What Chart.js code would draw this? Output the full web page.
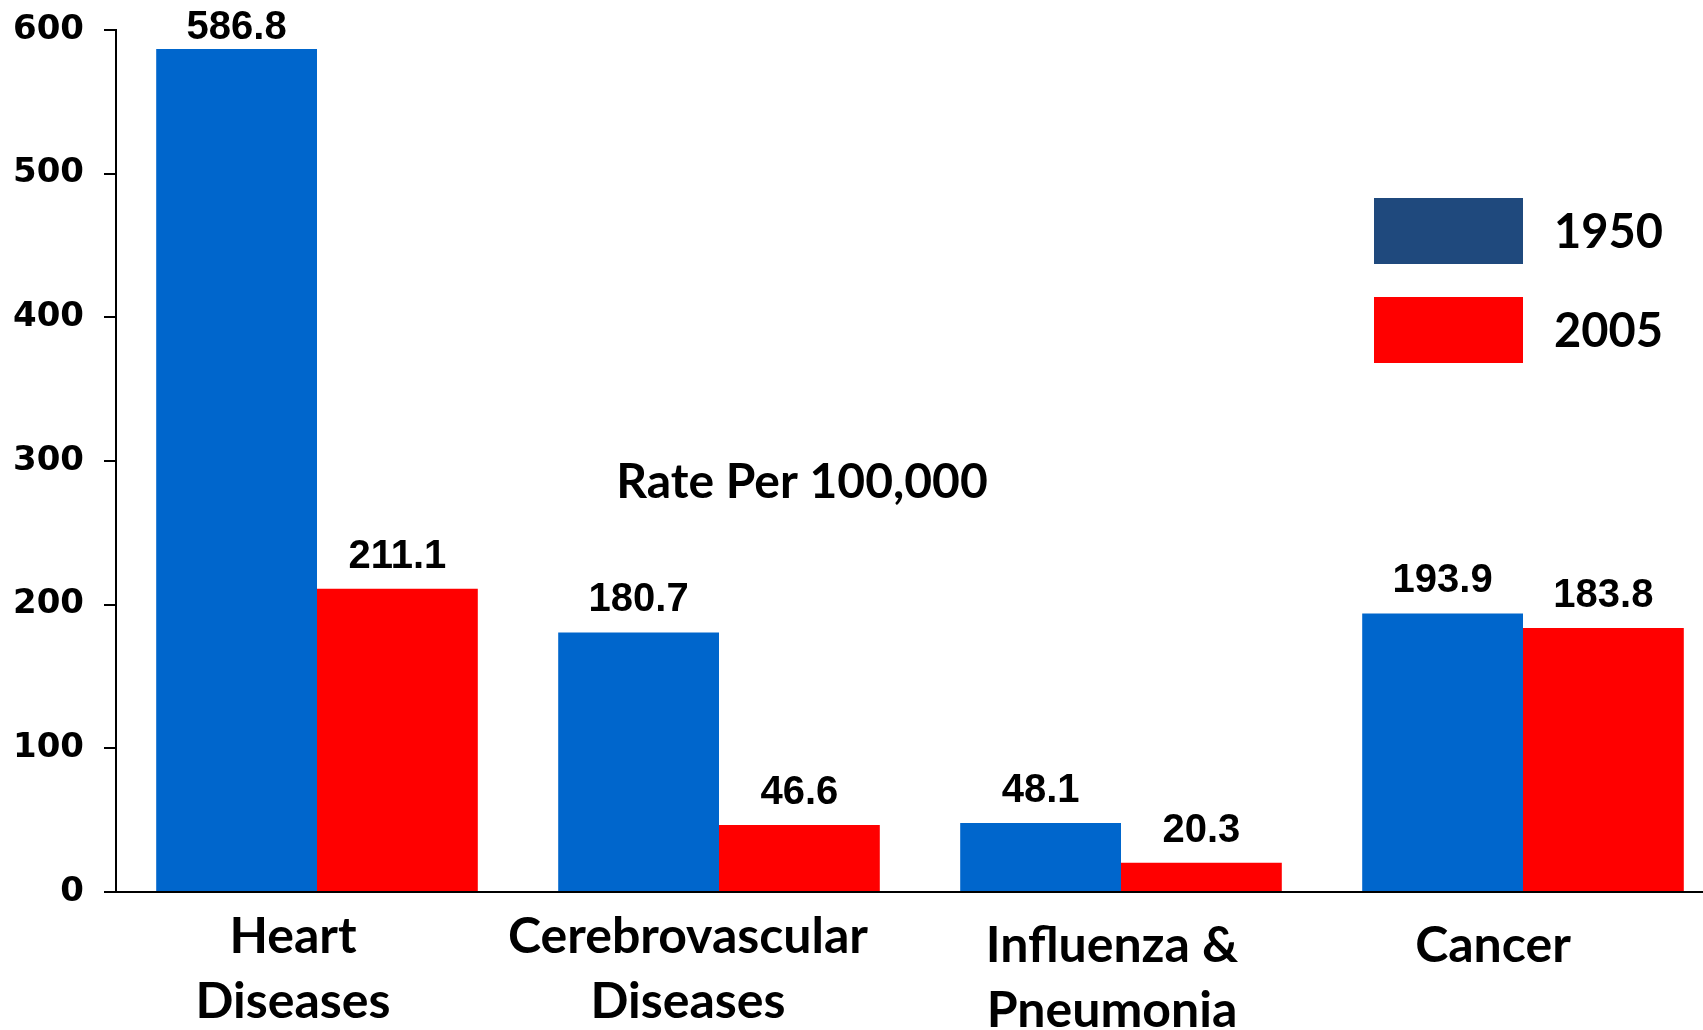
<!DOCTYPE html>
<html>
<head>
<meta charset="utf-8">
<script src="https://cdn.jsdelivr.net/npm/chart.js@4/dist/chart.umd.min.js"></script>
<style>
  html, body { margin: 0; padding: 0; background: #fff; overflow: hidden; }
  #wrap { position: absolute; left: 0; top: 0; width: 1724px; height: 1030px; }
</style>
</head>
<body>
<div id="wrap"><canvas id="barChart"></canvas></div>
<script>
// chart data
const categories = [["Heart", "Diseases"], ["Cerebrovascular", "Diseases"], ["Influenza &", "Pneumonia"], ["Cancer"]];
const seriesNames = ["1950", "2005"];
const values1950 = [586.8, 180.7, 48.1, 193.9];
const values2005 = [211.1, 46.6, 20.3, 183.8];
const yTicks = [0, 100, 200, 300, 400, 500, 600];
const note = "Rate Per 100,000";

// styling
const barColors = ["#0066CC", "#FF0000"];
const legendColors = ["#1F497D", "#FF0000"];
const labelFont = "bold 50px Lato";
// the category captions sit a bit off the bar centres in the original slide
const captionShift = [[-24, 0], [-31, 0], [-9, 9], [-30, 9]];

// draws value labels, category captions, legend and the note
const decorations = {
  id: "decorations",
  afterDatasetsDraw(chart) {
    const ctx = chart.ctx;
    ctx.save();

    // values above the bars
    ctx.font = "bold 40px 'Liberation Sans', Arial";
    ctx.fillStyle = "#000";
    ctx.textAlign = "center";
    ctx.textBaseline = "alphabetic";
    chart.data.datasets.forEach((ds, d) => {
      chart.getDatasetMeta(d).data.forEach((bar, i) => {
        const y = Math.max(bar.y - 21, 39);
        ctx.fillText(ds.data[i].toFixed(1), bar.x, y);
      });
    });

    // category captions under the axis
    const xScale = chart.scales.x;
    ctx.font = labelFont;
    ctx.textBaseline = "middle";
    categories.forEach((lines, i) => {
      const cx = xScale.getPixelForValue(i) + captionShift[i][0];
      lines.forEach((line, j) => {
        ctx.fillText(line, cx, 937 + captionShift[i][1] + j * 65);
      });
    });

    // note in the middle of the plot
    ctx.font = "bold 48px Lato";
    ctx.fillText(note, 802, 483);

    // legend
    ctx.textAlign = "left";
    ctx.font = "bold 47px Lato";
    seriesNames.forEach((name, i) => {
      const top = 198 + i * 99;
      ctx.fillStyle = legendColors[i];
      ctx.fillRect(1374, top, 149, 66);
      ctx.fillStyle = "#000";
      ctx.fillText(name, 1554, top + 35);
    });

    ctx.restore();
  },
};

const ctx = document.getElementById("barChart").getContext("2d");
const barChart = new Chart(ctx, {
  type: "bar",
  data: {
    labels: categories.map((c) => c.join(" ")),
    datasets: [
      { label: seriesNames[0], data: values1950, backgroundColor: barColors[0] },
      { label: seriesNames[1], data: values2005, backgroundColor: barColors[1] },
    ],
  },
  options: {
    responsive: true,
    maintainAspectRatio: false,
    animation: false,
    layout: { padding: { top: 30, left: 0, right: 0, bottom: 0 } },
    datasets: {
      bar: { categoryPercentage: 0.8, barPercentage: 1.0 },
    },
    plugins: {
      legend: { display: false },
      tooltip: { enabled: false },
    },
    scales: {
      x: {
        grid: { display: false },
        border: { display: true, color: "#000", width: 2 },
        ticks: { display: false },
        afterFit: (scale) => {
          scale.height = 138;
        },
      },
      y: {
        min: 0,
        max: 600,
        afterBuildTicks: (scale) => {
          scale.ticks = yTicks.map((v) => ({ value: v }));
        },
        grid: {
          drawOnChartArea: false,
          drawTicks: true,
          tickLength: 12,
          color: "#000",
          lineWidth: 2,
        },
        border: { display: true, color: "#000", width: 2 },
        ticks: {
          color: "#000",
          padding: 20,
          font: { family: "'DejaVu Sans'", size: 34, weight: "bold" },
        },
        afterFit: (scale) => {
          scale.width = 116;
          scale.paddingTop = 0;
          scale.paddingBottom = 0;
        },
      },
    },
  },
  plugins: [decorations],
});
</script>
</body>
</html>
